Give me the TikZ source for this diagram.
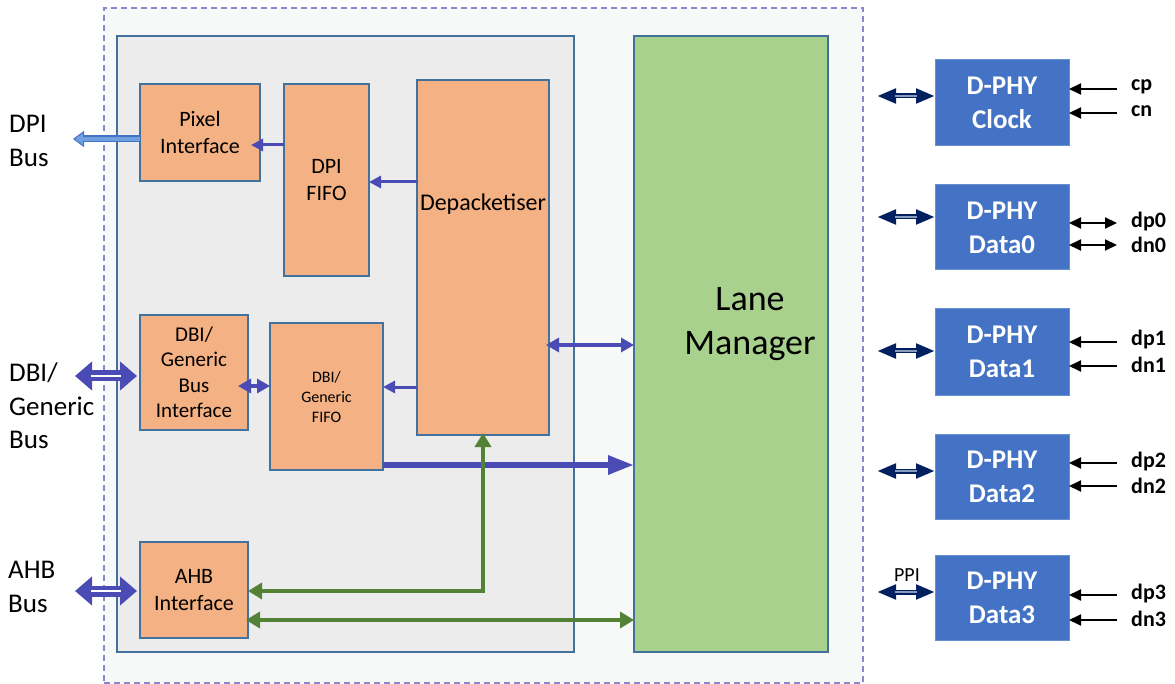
\documentclass[tikz,border=0pt]{standalone}
\usepackage{fontspec}
\setmainfont{Carlito}
\usetikzlibrary{arrows.meta}
\definecolor{orangebox}{HTML}{F4B183}
\definecolor{bordblue}{HTML}{41719C}
\definecolor{innergray}{HTML}{ECECEC}
\definecolor{outerfill}{HTML}{F7F9F9}
\definecolor{outerdash}{HTML}{8888CC}
\definecolor{lanegreen}{HTML}{A9D18E}
\definecolor{dphyblue}{HTML}{4472C4}
\definecolor{dphyedge}{HTML}{6A8FD0}
\definecolor{arrpurple}{HTML}{4B4BB5}
\definecolor{arrgreen}{HTML}{538135}
\definecolor{arrnavy}{HTML}{002060}
\definecolor{navymid}{HTML}{8A9BC0}
\definecolor{dpiedge}{HTML}{4472C4}
\definecolor{dpifill}{HTML}{6FA0E0}
\begin{document}
\begin{tikzpicture}[x=1pt,y=-1pt,
  boxbase/.style={inner sep=0pt, outer sep=0pt, anchor=north west, align=center},
  obox/.style={boxbase, draw=bordblue, line width=1.2pt, fill=orangebox},
  dphy/.style={boxbase, draw=dphyedge, line width=1pt, fill=dphyblue, text=white,
     font=\fontsize{27}{34}\selectfont\bfseries, minimum width=134pt},
  parrow/.style={draw=arrpurple, line width=3pt, -{Triangle[length=12pt,width=12pt]}},
  pdbl/.style={draw=arrpurple, line width=3.6pt, {Triangle[length=13pt,width=14pt]}-{Triangle[length=13pt,width=14pt]}},
  pthick/.style={draw=arrpurple, line width=6pt, -{Triangle[length=26pt,width=18pt]}},
  gline/.style={draw=arrgreen, line width=4.5pt},
  gtips/.style={{Triangle[length=14pt,width=16pt]}-{Triangle[length=14pt,width=16pt]}},
  busouter/.style={draw=arrpurple, line width=11pt, {Triangle[length=17pt,width=28pt]}-{Triangle[length=17pt,width=28pt]}},
  businner/.style={draw=white, line width=1.2pt, shorten <=16pt, shorten >=16pt},
  navyouter/.style={draw=arrnavy, line width=5pt, {Triangle[length=19pt,width=14pt]}-{Triangle[length=19pt,width=14pt]}},
  navyinner/.style={draw=navymid, line width=1.8pt, shorten <=18pt, shorten >=18pt},
  blk/.style={draw=black, line width=2pt, -{Triangle[length=12pt,width=11pt]}},
  blkdbl/.style={draw=black, line width=2pt, {Triangle[length=12pt,width=11pt]}-{Triangle[length=12pt,width=11pt]}},
  sig/.style={anchor=west, inner sep=0pt, font=\fontsize{22}{26}\selectfont\bfseries},
  buslbl/.style={anchor=west, align=left, inner sep=0pt, font=\fontsize{27}{33.5}\selectfont}
]
\useasboundingbox (0,0) rectangle (1175,684);

% containers
\node[boxbase, draw=outerdash, dash pattern=on 6pt off 4pt, line width=1.2pt, fill=outerfill,
      minimum width=759pt, minimum height=675pt] (outer) at (104,8) {};
\node[boxbase, draw=bordblue, line width=1.2pt, fill=innergray,
      minimum width=457pt, minimum height=616pt] (inner) at (117,36) {};
\node[boxbase, draw=bordblue, line width=1.2pt, fill=lanegreen,
      minimum width=194pt, minimum height=616pt] (lane) at (634,36) {};
\node[font=\fontsize{36}{44}\selectfont, align=center] (lanelbl) at (750,324) {Lane\\Manager};

% orange blocks
\node[obox, minimum width=120pt, minimum height=97pt, font=\fontsize{22}{27}\selectfont] (pix) at (140,84) {Pixel\\Interface};
\node[obox, minimum width=85pt, minimum height=192pt, font=\fontsize{22}{27}\selectfont] (dpififo) at (284,84) {DPI\\FIFO};
\node[obox, minimum width=132pt, minimum height=355pt] (depack) at (417,80) {};
\node[font=\fontsize{24}{28}\selectfont] (depacklbl) at (483,204) {Depacketiser};
\node[obox, minimum width=108pt, minimum height=115pt, font=\fontsize{21}{25.5}\selectfont] (dbi) at (140,315) {DBI/\\Generic\\Bus\\Interface};
\node[obox, minimum width=113pt, minimum height=147pt, font=\fontsize{16}{20}\selectfont] (dbififo) at (270,323) {DBI/\\Generic\\FIFO};
\node[obox, minimum width=108pt, minimum height=96pt, font=\fontsize{22}{27}\selectfont] (ahb) at (140,542) {AHB\\Interface};

% D-PHY blocks
\node[dphy, minimum height=86pt] (clk) at (935,60) {D-PHY\\Clock};
\node[dphy, minimum height=85pt] (d0) at (935,185) {D-PHY\\Data0};
\node[dphy, minimum height=86pt] (d1) at (935,309) {D-PHY\\Data1};
\node[dphy, minimum height=85pt] (d2) at (935,434) {D-PHY\\Data2};
\node[dphy, minimum height=85pt] (d3) at (935,555) {D-PHY\\Data3};

% left bus labels
\node[buslbl] (dpibus) at (9,141) {DPI\\Bus};
\node[buslbl] (dbibus) at (9,406) {DBI/\\Generic\\Bus};
\node[buslbl] (ahbbus) at (8,587) {AHB\\Bus};

% left bus arrows
\coordinate (dpiend) at (73,139);
\draw[draw=dpiedge, line width=7pt, -{Triangle[length=11pt,width=16pt,fill=dpifill,line width=1pt]}] (pix.west |- 0,139) -- (dpiend);
\draw[draw=dpifill, line width=3.5pt, shorten >=10pt] (pix.west |- 0,139) -- (dpiend);

\coordinate (dbiend) at (75,376);
\draw[busouter] (dbiend) -- ([xshift=-3pt]dbi.west |- 0,376);
\draw[businner] (dbiend) -- ([xshift=-3pt]dbi.west |- 0,376);

\coordinate (ahbend) at (75,591);
\draw[busouter] (ahbend) -- ([xshift=-3pt]ahb.west |- 0,591);
\draw[businner] (ahbend) -- ([xshift=-3pt]ahb.west |- 0,591);

% internal purple arrows
\draw[parrow, shorten >=-9pt] (dpififo.west |- 0,145) -- (pix.east |- 0,145);
\draw[parrow] (depack.west |- 0,182) -- (dpififo.east |- 0,182);
\draw[pdbl, shorten <=-10pt] (dbi.east |- 0,386) -- (dbififo.west |- 0,386);
\draw[parrow] (depack.west |- 0,387) -- (dbififo.east |- 0,387);
\draw[pdbl, shorten <=-3pt] (depack.east |- 0,345) -- (lane.west |- 0,345);
\draw[pthick] (dbififo.east |- 0,465) -- (lane.west |- 0,465);

% green arrows
\draw[gline, gtips, shorten <=-2pt] (depack.south) |- (ahb.east |- 0,591);
\draw[gline, gtips, shorten <=-2pt] (ahb.east |- 0,620) -- (lane.west |- 0,620);

% PPI arrows
\coordinate (c0) at (877,96);
\coordinate (c1) at (877,217);
\coordinate (c2) at (877,351);
\coordinate (c3) at (877,471);
\coordinate (c4) at (877,592);
\foreach \c/\b in {c0/clk,c1/d0,c2/d1,c3/d2,c4/d3}{
  \draw[navyouter] (\c) -- (\b.west |- \c);
  \draw[navyinner] (\c) -- (\b.west |- \c);
}
\node[font=\fontsize{20}{24}\selectfont, inner sep=0pt] (ppi) at (907,575) {PPI};

% pin arrows and labels
\coordinate (pcp) at (1117,89);
\coordinate (pcn) at (1117,113);
\coordinate (pdp0) at (1117,223);
\coordinate (pdn0) at (1117,245);
\coordinate (pdp1) at (1117,342);
\coordinate (pdn1) at (1117,366);
\coordinate (pdp2) at (1117,463);
\coordinate (pdn2) at (1117,486);
\coordinate (pdp3) at (1117,595);
\coordinate (pdn3) at (1117,620);
\draw[blk] (pcp) -- (clk.east |- pcp);
\draw[blk] (pcn) -- (clk.east |- pcn);
\draw[blkdbl] (pdp0) -- (d0.east |- pdp0);
\draw[blkdbl] (pdn0) -- (d0.east |- pdn0);
\draw[blk] (pdp1) -- (d1.east |- pdp1);
\draw[blk] (pdn1) -- (d1.east |- pdn1);
\draw[blk] (pdp2) -- (d2.east |- pdp2);
\draw[blk] (pdn2) -- (d2.east |- pdn2);
\draw[blk] (pdp3) -- (d3.east |- pdp3);
\draw[blk] (pdn3) -- (d3.east |- pdn3);
\node[sig] (lcp) at (1131,87) {cp};
\node[sig] (lcn) at (1131,111) {cn};
\node[sig] (ldp0) at (1131,222) {dp0};
\node[sig] (ldn0) at (1131,245) {dn0};
\node[sig] (ldp1) at (1131,340) {dp1};
\node[sig] (ldn1) at (1131,365) {dn1};
\node[sig] (ldp2) at (1131,462) {dp2};
\node[sig] (ldn2) at (1131,486) {dn2};
\node[sig] (ldp3) at (1131,594) {dp3};
\node[sig] (ldn3) at (1131,619) {dn3};
\end{tikzpicture}
\end{document}
